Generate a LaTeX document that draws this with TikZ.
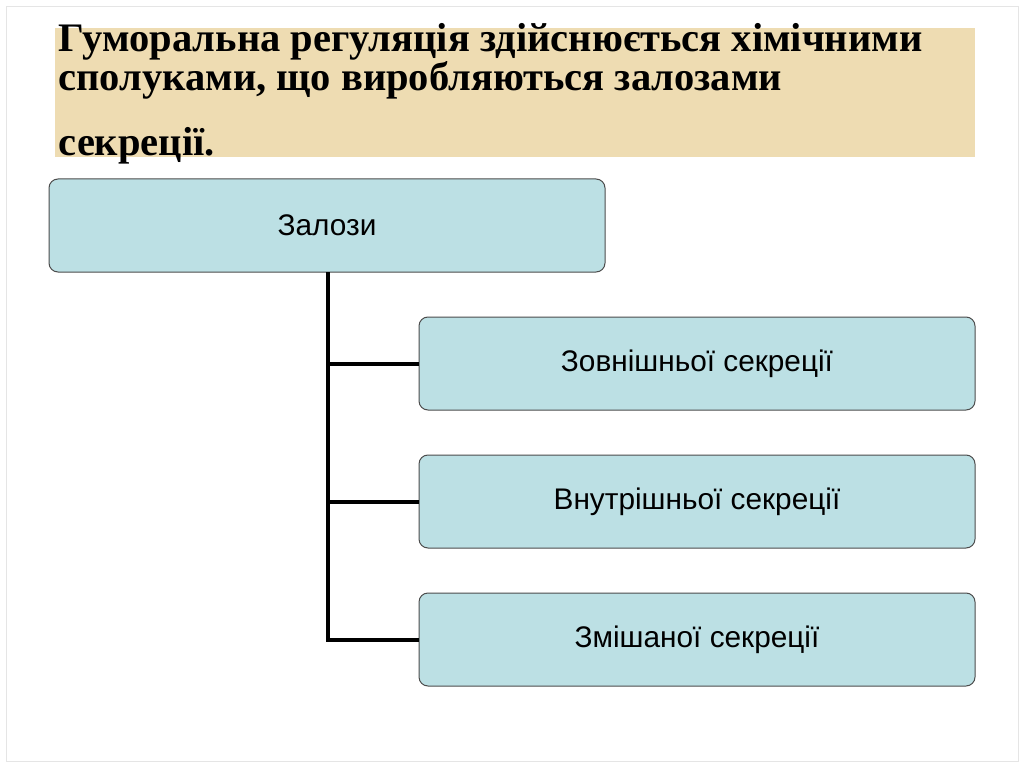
\documentclass[tikz,border=0pt]{standalone}
\usepackage{fontspec}
\setmainfont{Liberation Serif}
\newfontfamily\boxfont{Liberation Sans}
\definecolor{boxfill}{RGB}{188,224,228}
\definecolor{band}{RGB}{238,220,178}
\begin{document}
\begin{tikzpicture}[x=1pt,y=-1pt,
  box/.style={draw=black!70,line width=1pt,fill=boxfill,rounded corners=9pt,minimum width=556pt,minimum height=93pt,font=\boxfont\fontsize{29.8}{34}\selectfont},
  ttl/.style={anchor=west,font=\bfseries\fontsize{40.5}{46}\selectfont},
  conn/.style={line width=4pt}]
\useasboundingbox (0,0) rectangle (1024,767);
\fill[white] (0,0) rectangle (1024,767);
\draw[black!10] (6,6) rectangle (1018,761);
\fill[band] (55,28) rectangle (975,157);
\node[ttl] (t1) at (55,42) {Гуморальна регуляція здійснюється хімічними};
\node[ttl] (t2) at (55,80) {сполуками, що виробляються залозами};
\node[ttl] (t3) at (55,146) {секреції.};
\node[box] (root) at (327,225.5) {Залози};
\node[box] (a) at (697,363.5) {Зовнішньої секреції};
\node[box] (b) at (697,501.5) {Внутрішньої секреції};
\node[box] (c) at (697,639.5) {Змішаної секреції};
\coordinate (s) at (328,272);
\draw[conn] (s) -- (328,639.5) -- (c.west);
\draw[conn] (328,363.5) -- (a.west);
\draw[conn] (328,501.5) -- (b.west);
\end{tikzpicture}
\end{document}
